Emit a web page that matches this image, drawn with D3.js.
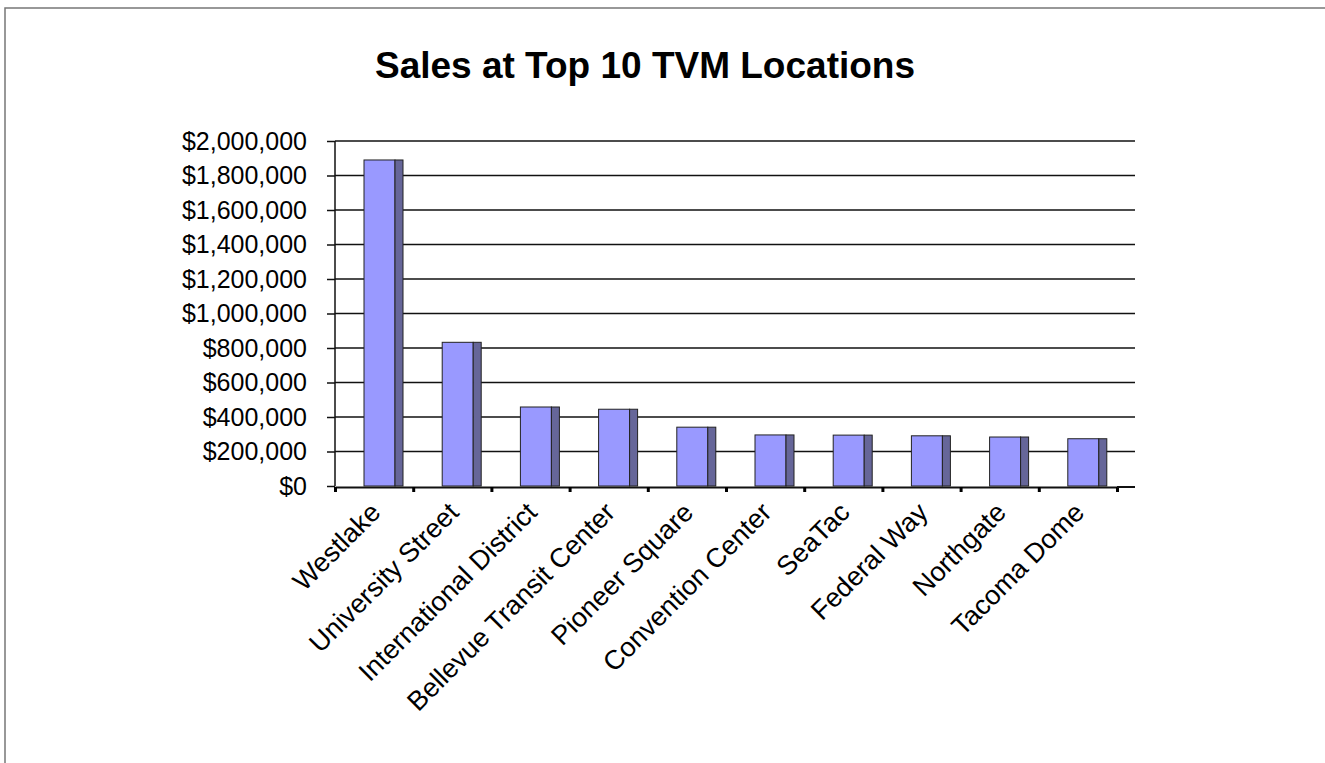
<!DOCTYPE html>
<html>
<head>
<meta charset="utf-8">
<script src="https://cdn.jsdelivr.net/npm/d3@7"></script>
<style>
  body { margin: 0; background: #fff; }
  svg text { font-family: "Liberation Sans", Arial, sans-serif; fill: #000; }
  .yaxis path { display: none; }
  .yaxis line { stroke: #111; stroke-width: 1.5px; }
  .xaxis path { stroke: #111; stroke-width: 2px; }
  .xaxis line { stroke: #000; stroke-width: 3px; }
</style>
</head>
<body>
<div id="chart"></div>
<script>
// data
var locations = ["Westlake", "University Street", "International District",
  "Bellevue Transit Center", "Pioneer Square", "Convention Center",
  "SeaTac", "Federal Way", "Northgate", "Tacoma Dome"];
var sales = [1890000, 833000, 458000, 445000, 341000, 296000, 295000, 291000, 284000, 274000];
var yTicks = [0, 200000, 400000, 600000, 800000, 1000000, 1200000, 1400000, 1600000, 1800000, 2000000];

var W = 1325, H = 763;
var plotLeft = 335, plotRight = 1117, plotTop = 141, plotBottom = 486, depth = 18;

var svg = d3.select("#chart").append("svg")
    .attr("width", W)
    .attr("height", H);

// chart border
svg.append("rect")
    .attr("x", 5).attr("y", 8)
    .attr("width", W + 10).attr("height", H + 10)
    .style("fill", "none")
    .style("stroke", "#777")
    .style("stroke-width", 1.5);

// title
svg.append("text")
    .attr("x", 645).attr("y", 78)
    .attr("text-anchor", "middle")
    .style("font-size", "37px")
    .style("font-weight", "bold")
    .text("Sales at Top 10 TVM Locations");

// scales
var x = d3.scaleBand().domain(locations).range([plotLeft, plotRight]);
var xEdge = d3.scaleLinear().domain([0, locations.length]).range([plotLeft, plotRight]);
var y = d3.scaleLinear().domain([0, 2000000]).range([plotBottom, plotTop]);

// gridlines
svg.selectAll(".grid")
    .data(yTicks.slice(1))
  .enter().append("line")
    .attr("x1", plotLeft).attr("x2", plotRight + depth)
    .attr("y1", function(d) { return y(d); })
    .attr("y2", function(d) { return y(d); })
    .style("stroke", "#111")
    .style("stroke-width", 1.5);

// y axis
var yAxis = svg.append("g")
    .attr("class", "yaxis")
    .attr("transform", "translate(" + plotLeft + ",0)")
    .call(d3.axisLeft(y)
      .tickValues(yTicks)
      .tickSize(8)
      .tickPadding(20)
      .tickFormat(d3.format("$,")));
yAxis.selectAll("text").style("font-size", "25px");

svg.append("line")
    .attr("x1", plotLeft).attr("x2", plotLeft)
    .attr("y1", plotTop).attr("y2", plotBottom)
    .style("stroke", "#111")
    .style("stroke-width", 1.5);

// bars: front face
var frontOff = 29, frontW = 31, sideW = 8;
svg.selectAll(".front")
    .data(sales)
  .enter().append("rect")
    .attr("x", function(d, i) { return x(locations[i]) + frontOff; })
    .attr("y", function(d) { return y(d); })
    .attr("width", frontW)
    .attr("height", function(d) { return plotBottom - y(d); })
    .style("fill", "#9999ff")
    .style("stroke", "#222")
    .style("stroke-width", 1);

// bars: side face
svg.selectAll(".side")
    .data(sales)
  .enter().append("rect")
    .attr("x", function(d, i) { return x(locations[i]) + frontOff + frontW; })
    .attr("y", function(d) { return y(d); })
    .attr("width", sideW)
    .attr("height", function(d) { return plotBottom - y(d); })
    .style("fill", "#666699")
    .style("stroke", "#222")
    .style("stroke-width", 1);

// x axis
svg.append("g")
    .attr("class", "xaxis")
    .attr("transform", "translate(0," + (plotBottom + 1) + ")")
    .call(d3.axisBottom(xEdge)
      .ticks(locations.length)
      .tickSize(5)
      .tickSizeOuter(0)
      .tickFormat(""));

svg.append("line")
    .attr("x1", plotRight).attr("x2", plotRight + depth)
    .attr("y1", plotBottom + 1).attr("y2", plotBottom + 1)
    .style("stroke", "#111")
    .style("stroke-width", 2);

// category labels
svg.selectAll(".xlab")
    .data(locations)
  .enter().append("text")
    .attr("text-anchor", "end")
    .style("font-size", "27px")
    .attr("transform", function(d) {
      return "translate(" + (x(d) + x.bandwidth() / 2 + 8) + "," + (plotBottom + 28) + ") rotate(-45)";
    })
    .text(function(d) { return d; });
</script>
</body>
</html>
